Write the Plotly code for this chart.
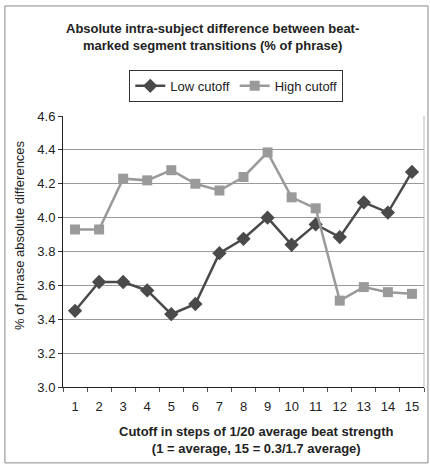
import plotly.graph_objects as go

cutoffs = list(range(1, 16))
low_cutoff = [3.45, 3.62, 3.62, 3.57, 3.43, 3.49, 3.79, 3.875, 4.00, 3.84, 3.96, 3.885, 4.09, 4.03, 4.27]
high_cutoff = [3.93, 3.93, 4.23, 4.22, 4.28, 4.20, 4.16, 4.24, 4.385, 4.12, 4.055, 3.51, 3.59, 3.56, 3.55]
y_ticks = [3.0, 3.2, 3.4, 3.6, 3.8, 4.0, 4.2, 4.4, 4.6]
y_tick_labels = ["3.0", "3.2", "3.4", "3.6", "3.8", "4.0", "4.2", "4.4", "4.6"]

FONT = "Liberation Sans, Arial, sans-serif"
TXT = "#222"

fig = go.Figure()
fig.add_trace(go.Scatter(
    x=cutoffs, y=low_cutoff, name="Low cutoff", mode="lines+markers",
    line=dict(color="#4a4a4a", width=2.5),
    marker=dict(symbol="diamond", size=11, color="#4a4a4a"),
))
fig.add_trace(go.Scatter(
    x=cutoffs, y=high_cutoff, name="High cutoff", mode="lines+markers",
    line=dict(color="#9a9a9a", width=2.5),
    marker=dict(symbol="square", size=10, color="#9a9a9a"),
))

fig.update_layout(
    width=430, height=466,
    margin=dict(l=63, r=6, t=116, b=79),
    paper_bgcolor="white", plot_bgcolor="white",
    font=dict(family=FONT, size=13, color=TXT),
    legend=dict(
        orientation="h", x=0.48, xanchor="center", y=1.052, yanchor="bottom",
        bordercolor="#333", borderwidth=1, bgcolor="white",
        font=dict(family=FONT, size=13, color=TXT),
        itemwidth=30,
    ),
    showlegend=True,
    xaxis=dict(
        range=[0.5, 15.5], tickmode="array", tickvals=cutoffs,
        ticktext=[str(c) for c in cutoffs],
        ticks="", showgrid=False, zeroline=False,
        showline=True, linecolor="#222", linewidth=1,
        tickfont=dict(family=FONT, size=13, color=TXT),
        ticklabelstandoff=7,
        minor=dict(tick0=0.5, dtick=1, ticks="outside", ticklen=4, tickcolor="#555", showgrid=False),
    ),
    yaxis=dict(
        range=[3.0, 4.6], tickmode="array", tickvals=y_ticks, ticktext=y_tick_labels,
        ticks="outside", ticklen=4, tickcolor="#333",
        showgrid=True, gridcolor="#9a9a9a", gridwidth=1, zeroline=False,
        showline=True, linecolor="#222", linewidth=1,
        tickfont=dict(family=FONT, size=13, color=TXT),
    ),
    annotations=[
        dict(text="<b>Absolute intra-subject difference between beat-<br>marked segment transitions (% of phrase)</b>",
             xref="paper", yref="paper", x=0.415, y=1.29, xanchor="center", yanchor="middle",
             showarrow=False, font=dict(family=FONT, size=13, color=TXT)),
        dict(text="<b>Cutoff in steps of 1/20 average beat strength<br>(1 = average, 15 = 0.3/1.7 average)</b>",
             xref="paper", yref="paper", x=0.537, y=-0.128, xanchor="center", yanchor="top",
             showarrow=False, font=dict(family=FONT, size=13, color=TXT)),
        dict(text="% of phrase absolute differences",
             xref="paper", yref="paper", x=-0.119, y=0.561, xanchor="center", yanchor="middle",
             textangle=-90, showarrow=False, font=dict(family=FONT, size=13, color=TXT)),
    ],
    shapes=[
        dict(type="rect", xref="paper", yref="paper", x0=-0.161, x1=1.011, y0=-0.280, y1=1.406,
             line=dict(color="#888", width=1)),
        dict(type="line", xref="paper", yref="paper", x0=1, x1=1, y0=0, y1=1,
             line=dict(color="#bbb", width=1)),
    ],
)

fig.write_html("out.html", config={"displayModeBar": False},
               post_script="document.body.style.margin='0';")
